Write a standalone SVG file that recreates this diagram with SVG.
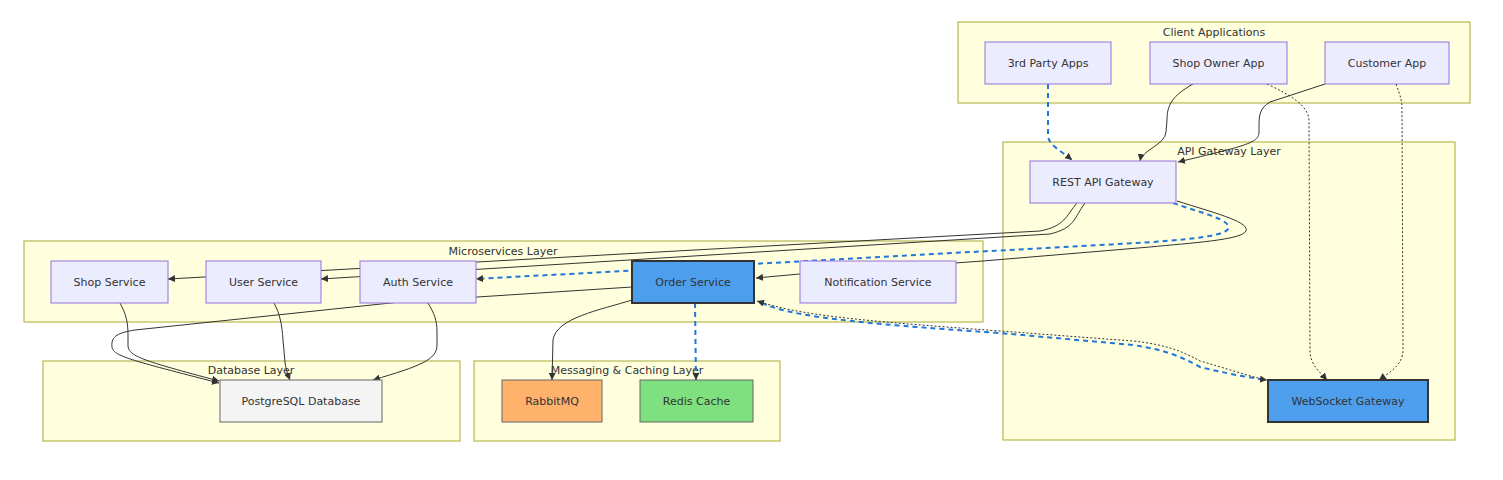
<svg xmlns="http://www.w3.org/2000/svg" width="1503" height="480" viewBox="0 0 1503 480">
<style>
.cl{fill:#ffffde;stroke:#aaaa33;stroke-width:1}
.ct{font-family:"DejaVu Sans","Liberation Sans",sans-serif;font-size:11px;fill:#333;text-anchor:middle}
.n{fill:#ECECFF;stroke:#9370DB;stroke-width:1}
.hl{fill:#4D9FEE;stroke:#333;stroke-width:2}
.db{fill:#f4f4f4;stroke:#666;stroke-width:1}
.mq{fill:#FFB26B;stroke:#666;stroke-width:1}
.rd{fill:#7EE07E;stroke:#666;stroke-width:1}
.t{font-family:"DejaVu Sans","Liberation Sans",sans-serif;font-size:11px;fill:#333;text-anchor:middle;dominant-baseline:central}
.e{fill:none;stroke:#333;stroke-width:1}
.b{fill:none;stroke:#2176d9;stroke-width:2;stroke-dasharray:5 4}
.d{fill:none;stroke:#333;stroke-width:1;stroke-dasharray:2 2}
</style>
<defs>
<marker id="ah" viewBox="0 0 10 10" refX="10" refY="5" markerWidth="7" markerHeight="7" markerUnits="userSpaceOnUse" orient="auto">
<path d="M0,0 L10,5 L0,10 z" fill="#333"/>
</marker>
</defs>
<rect width="1503" height="480" fill="#ffffff"/>
<g id="clusters">
<g id="cluster-client"><rect class="cl" x="958" y="22" width="512" height="81"/><text class="ct" x="1214" y="36">Client Applications</text></g>
<g id="cluster-gateway"><rect class="cl" x="1003" y="142" width="452" height="298"/><text class="ct" x="1229" y="155">API Gateway Layer</text></g>
<g id="cluster-micro"><rect class="cl" x="24" y="241" width="959" height="81"/><text class="ct" x="503" y="255">Microservices Layer</text></g>
<g id="cluster-db"><rect class="cl" x="43" y="361" width="417" height="80"/><text class="ct" x="251" y="374">Database Layer</text></g>
<g id="cluster-msg"><rect class="cl" x="474" y="361" width="306" height="80"/><text class="ct" x="627" y="374">Messaging &amp; Caching Layer</text></g>
</g>
<g id="edges">
<path class="b" d="M1048,84 L1048,135 C1048,145 1060,150 1072,160" marker-end="url(#ah)"/>
<path class="e" d="M1193,84 C1172,96 1167,105 1167,120 L1166,132 C1165,145 1142,150 1140,161" marker-end="url(#ah)"/>
<path class="e" d="M1325,84 L1270,102 C1260,108 1259,115 1259,125 L1259,133 C1258,143 1245,146 1178,162" marker-end="url(#ah)"/>
<path class="d" d="M1267,84 C1290,95 1308,105 1309,120 L1310,350 C1310,365 1320,372 1327,380" marker-end="url(#ah)"/>
<path class="d" d="M1396,84 C1400,95 1402,100 1402,110 L1403,350 C1403,365 1390,372 1379,380" marker-end="url(#ah)"/>
<path class="e" d="M1077,203 C1066,216 1065,226 1040,231 L168,279" marker-end="url(#ah)"/>
<path class="e" d="M1085,203 C1074,218 1075,228 1050,234 L321,279" marker-end="url(#ah)"/>
<path class="b" d="M1173,203 C1205,214 1232,220 1228,229 C1224,238 1160,242 1100,245 L476,279" marker-end="url(#ah)"/>
<path class="e" d="M1177,201 C1215,213 1250,222 1246,231 C1242,240 1190,243 1150,247 L983,261 L800,274 L756,278" marker-end="url(#ah)"/>
<path class="e" d="M632,287 L400,302 L135,330 C115,333 111,338 112,347 C113,356 130,360 219,383" marker-end="url(#ah)"/>
<path class="e" d="M120,303 C126,314 128,322 128,335 L128,345 C128,356 140,360 219,381" marker-end="url(#ah)"/>
<path class="e" d="M274,303 C280,314 282,325 283,340 L285,362 C286,370 288,375 290,380" marker-end="url(#ah)"/>
<path class="e" d="M428,303 C434,313 437,320 437,332 L437,345 C437,360 420,366 373,380" marker-end="url(#ah)"/>
<path class="e" d="M632,300 C600,310 556,318 553,340 L552,380" marker-end="url(#ah)"/>
<path class="b" d="M695,303 L696,380" marker-end="url(#ah)"/>
<path class="b" d="M762,303 C790,316 850,323 1000,333 L1133,345 C1165,350 1180,356 1200,367 C1220,372 1245,377 1267,380" marker-end="url(#ah)"/>
<path class="d" d="M1266,380 C1245,375 1225,368 1200,361 C1185,353 1170,345 1133,341 L1000,331 C850,320 800,315 757,301" marker-end="url(#ah)"/>
</g>
<g id="node-3rdparty"><rect class="n" x="985" y="42" width="126" height="42"/><text class="t" x="1048" y="63">3rd Party Apps</text></g>
<g id="node-shopowner"><rect class="n" x="1150" y="42" width="137" height="42"/><text class="t" x="1218.5" y="63">Shop Owner App</text></g>
<g id="node-customer"><rect class="n" x="1325" y="42" width="124" height="42"/><text class="t" x="1387" y="63">Customer App</text></g>
<g id="node-rest"><rect class="n" x="1030" y="161" width="146" height="42"/><text class="t" x="1103" y="182">REST API Gateway</text></g>
<g id="node-ws"><rect class="hl" x="1268" y="380" width="160" height="42"/><text class="t" x="1348" y="401">WebSocket Gateway</text></g>
<g id="node-shop"><rect class="n" x="51" y="261" width="117" height="42"/><text class="t" x="109.5" y="282">Shop Service</text></g>
<g id="node-user"><rect class="n" x="206" y="261" width="115" height="42"/><text class="t" x="263.5" y="282">User Service</text></g>
<g id="node-auth"><rect class="n" x="360" y="261" width="116" height="42"/><text class="t" x="418" y="282">Auth Service</text></g>
<g id="node-order"><rect class="hl" x="632" y="261" width="122" height="42"/><text class="t" x="693" y="282">Order Service</text></g>
<g id="node-notif"><rect class="n" x="800" y="261" width="156" height="42"/><text class="t" x="878" y="282">Notification Service</text></g>
<g id="node-pg"><rect class="db" x="220" y="380" width="162" height="42"/><text class="t" x="301" y="401">PostgreSQL Database</text></g>
<g id="node-rabbit"><rect class="mq" x="502" y="380" width="100" height="42"/><text class="t" x="552" y="401">RabbitMQ</text></g>
<g id="node-redis"><rect class="rd" x="640" y="380" width="113" height="42"/><text class="t" x="696.5" y="401">Redis Cache</text></g>
</svg>
